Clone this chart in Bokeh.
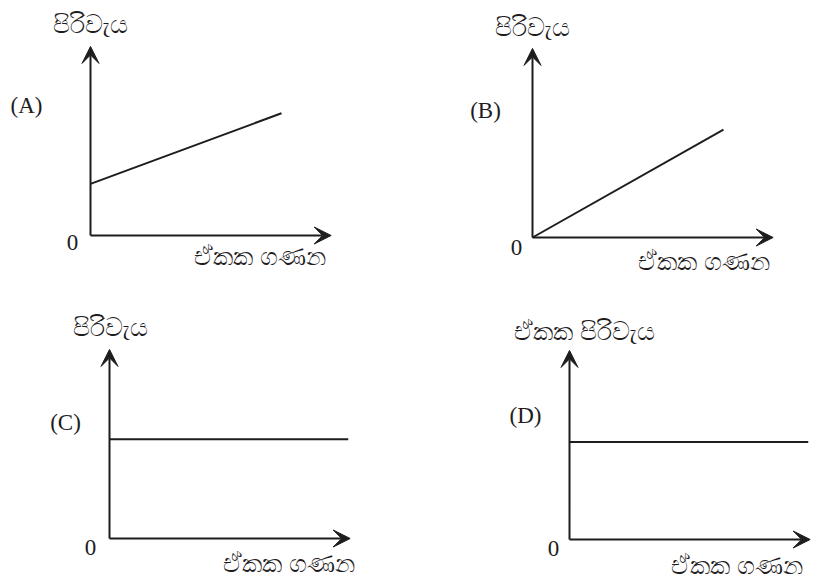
from bokeh.plotting import figure
from bokeh.layouts import gridplot
from bokeh.models import Range1d, Arrow, VeeHead, Label
from bokeh.embed import file_html
from bokeh.resources import INLINE

# ---- data (units and cost values, same scale per panel) ----
panel_names = ["(A)", "(B)", "(C)", "(D)"]
y_titles = ["පිරිවැය", "පිරිවැය", "පිරිවැය", "ඒකක පිරිවැය"]
x_title = "ඒකක  ගණන"
origin_label = "0"

units_A = [0, 10]
cost_A = [2.7, 6.4]
units_B = [0, 10]
cost_B = [0, 5.65]
units_C = [0, 12.5]
cost_C = [5.2, 5.2]
units_D = [0, 12.5]
cost_D = [5.1, 5.1]

x_axis_max = 12.6
y_axis_max = 9.9

# ---- layout (pixels) ----
S = 19.1  # pixels per data unit
W1, W2 = 410, 408
H1, H2 = 298, 287
# origin position inside each figure (from top-left), in pixels
origins = [(90, 235), (122, 237), (109, 240), (159, 241)]
sizes = [(W1, H1), (W2, H1), (W1, H2), (W2, H2)]
# text offsets from origin in pixels (dx right, dy up)
offsets = [
    dict(name=(-64, 130), zero=(-18, -7), ylab=(0, 213), xlab=(173, -19)),
    dict(name=(-47, 127), zero=(-16, -10), ylab=(0, 212), xlab=(175, -22)),
    dict(name=(-44, 116), zero=(-19, -9), ylab=(1, 213), xlab=(183, -23)),
    dict(name=(-44, 124), zero=(-16, -9), ylab=(15, 210), xlab=(171, -24)),
]
series = [(units_A, cost_A), (units_B, cost_B), (units_C, cost_C), (units_D, cost_D)]

SERIF = "Liberation Serif"
SINHALA = "Noto Sans"
INK = "#1e1c1d"

figs = []
for i in range(4):
    w, h = sizes[i]
    ox, oy = origins[i]
    p = figure(width=w, height=h, output_backend="svg", toolbar_location=None,
               x_axis_location=None, y_axis_location=None, min_border=0,
               x_range=Range1d(-ox / S, (w - ox) / S),
               y_range=Range1d(-(h - oy) / S, oy / S))
    p.grid.visible = False
    p.outline_line_color = None
    p.background_fill_color = "white"
    p.border_fill_color = "white"

    # axes as arrows
    for xe, ye in [(x_axis_max, 0), (0, y_axis_max)]:
        p.add_layout(Arrow(x_start=0, y_start=0, x_end=xe, y_end=ye,
                           line_width=2, line_color=INK,
                           end=VeeHead(size=17, fill_color=INK, line_color=INK, line_width=1)))

    xs, ys = series[i]
    p.line(xs, ys, line_width=2, line_color=INK)

    off = offsets[i]
    def lab(text, key, font, size):
        dx, dy = off[key]
        p.add_layout(Label(x=dx / S, y=dy / S, text=text, text_font=font,
                           text_font_size=size, text_align="center",
                           text_baseline="middle", text_color=INK))
    lab(panel_names[i], "name", SERIF, "23px")
    lab(origin_label, "zero", SERIF, "23px")
    lab(y_titles[i], "ylab", SINHALA, "25px")
    lab(x_title, "xlab", SINHALA, "25px")
    figs.append(p)

grid = gridplot([[figs[0], figs[1]], [figs[2], figs[3]]], toolbar_location=None)

open("out.html", "w").write(file_html(grid, INLINE))
